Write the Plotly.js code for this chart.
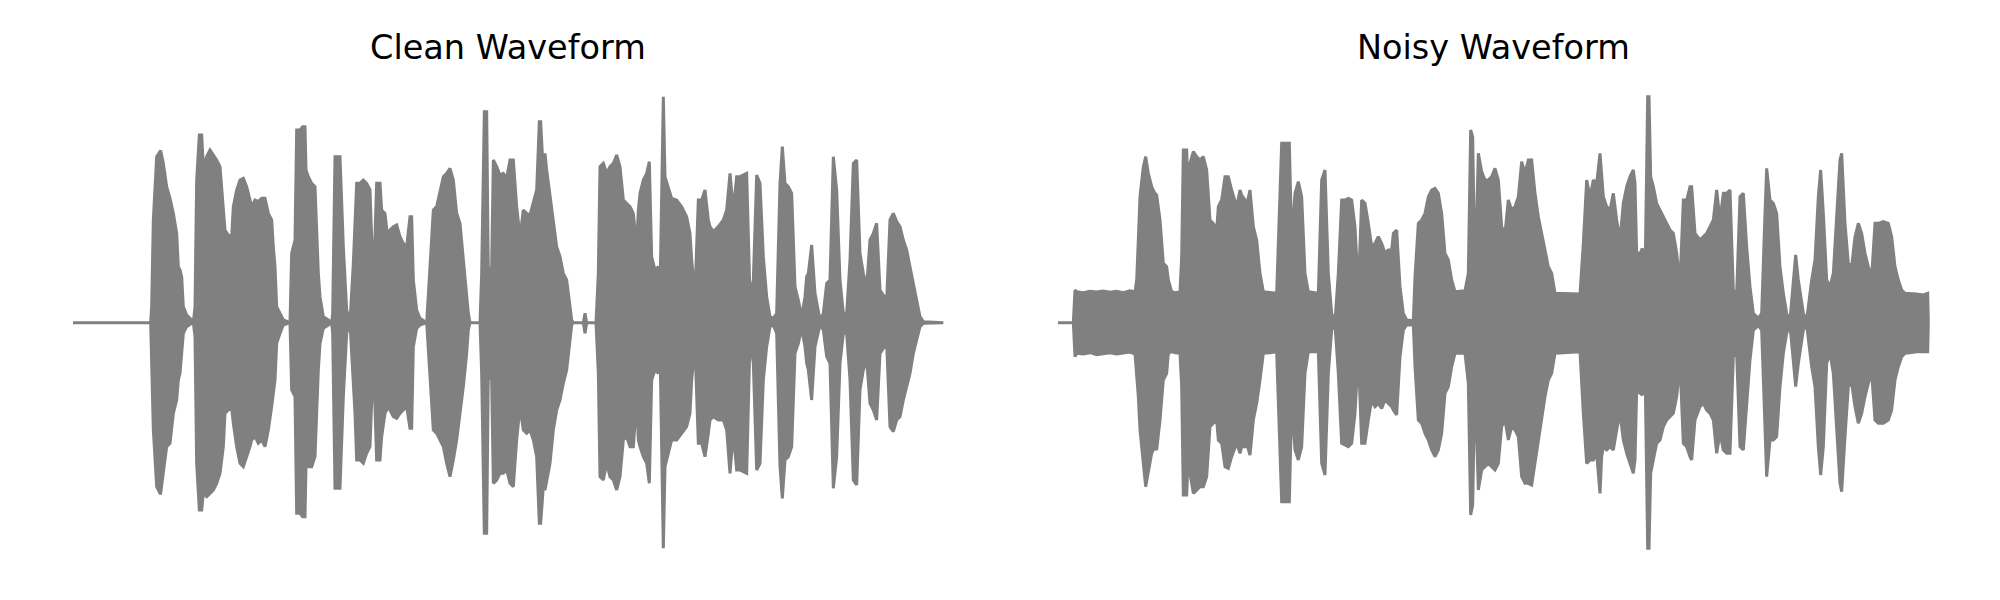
<!DOCTYPE html>
<html>
<head>
<meta charset="utf-8">
<script src="https://cdn.plot.ly/plotly-3.0.1.min.js"></script>
<style>html,body{margin:0;padding:0;background:#fff;}#chart{width:2000px;height:600px;}</style>
</head>
<body>
<div id="chart"></div>
<script>
// Titles
const titles = ["Clean Waveform", "Noisy Waveform"];

// Clean waveform envelope: time (ms), upper and lower amplitude
const cleanTime = [0,466,472,482,502,522,526,542,562,582,602,622,632,642,652,662,682,712,722,732,742,758,772,782,802,822,842,862,882,902,912,932,952,962,982,1002,1022,1042,1062,1072,1092,1112,1132,1152,1172,1192,1202,1212,1222,1242,1262,1302,1312,1332,1342,1362,1378,1392,1398,1412,1432,1452,1462,1472,1482,1502,1532,1552,1558,1572,1602,1622,1642,1662,1682,1692,1702,1722,1742,1762,1782,1802,1822,1842,1852,1872,1892,1902,1922,1942,1962,1982,2002,2022,2032,2042,2062,2082,2122,2142,2162,2182,2202,2222,2242,2262,2282,2302,2322,2342,2362,2372,2382,2442,2452,2468,2482,2492,2512,2522,2542,2562,2582,2602,2622,2642,2662,2682,2702,2722,2742,2762,2782,2798,2806,2822,2832,2842,2862,2882,2902,2922,2942,2962,2982,2992,3002,3062,3072,3082,3138,3152,3162,3182,3202,3222,3242,3262,3282,3302,3322,3342,3362,3382,3392,3402,3422,3442,3458,3472,3492,3512,3522,3532,3542,3552,3572,3592,3622,3652,3682,3702,3712,3732,3752,3772,3792,3812,3822,3842,3872,3902,3922,3942,3962,3982,4002,4022,4042,4062,4082,4102,4122,4142,4162,4182,4202,4222,4242,4256,4272,4292,4312,4332,4352,4372,4392,4402,4412,4432,4452,4482,4502,4522,4542,4562,4582,4602,4622,4642,4662,4682,4702,4722,4742,4762,4782,4802,4822,4842,4882,4902,4922,4942,4962,4982,5002,5022,5042,5062,5082,5102,5222];
const cleanUpper = [0,0,0.048,0.308,0.498,0.513,0.516,0.478,0.408,0.373,0.328,0.268,0.168,0.158,0.138,0.048,0.023,0.008,0,0.048,0.428,0.563,0.563,0.468,0.498,0.518,0.503,0.488,0.468,0.348,0.278,0.263,0.258,0.348,0.398,0.428,0.433,0.408,0.368,0.348,0.368,0.363,0.373,0.373,0.328,0.308,0.228,0.168,0.048,0.028,0.008,0,0.208,0.248,0.578,0.578,0.588,0.588,0.458,0.438,0.418,0.408,0.278,0.148,0.078,0.018,0.008,0,0.028,0.498,0.498,0.228,0.038,0.003,0.178,0.278,0.418,0.418,0.428,0.418,0.398,0.108,0.418,0.418,0.338,0.328,0.238,0.278,0.288,0.293,0.258,0.238,0.228,0.318,0.318,0.128,0.038,0.013,0,0.168,0.338,0.348,0.398,0.438,0.448,0.463,0.428,0.328,0.298,0.188,0.098,0.028,0,0,0.148,0.633,0.633,0.148,0.168,0.488,0.468,0.443,0.448,0.433,0.488,0.488,0.348,0.258,0.338,0.328,0.323,0.358,0.398,0.603,0.603,0.448,0.508,0.458,0.378,0.308,0.228,0.198,0.148,0.128,0.048,0.008,0,0,0.028,0,0,0.148,0.468,0.478,0.448,0.468,0.478,0.503,0.468,0.368,0.358,0.348,0.328,0.228,0.338,0.388,0.428,0.448,0.483,0.198,0.158,0.168,0.088,0.378,0.678,0.438,0.408,0.373,0.368,0.348,0.318,0.268,0.188,0.088,0.368,0.368,0.398,0.308,0.288,0.273,0.288,0.308,0.338,0.448,0.338,0.438,0.438,0.443,0.448,0.078,0.128,0.443,0.418,0.198,0.078,0.018,0.013,0.028,0.418,0.528,0.418,0.408,0.388,0.108,0.068,0.018,0.078,0.138,0.148,0.233,0.088,0.008,0.028,0.118,0.128,0.498,0.398,0.128,0.028,0.028,0.188,0.478,0.488,0.208,0.148,0.108,0.248,0.268,0.298,0.098,0.068,0.308,0.328,0.303,0.288,0.248,0.218,0.168,0.118,0.058,0.018,0.003,0];
const cleanLower = [0,0,-0.052,-0.322,-0.492,-0.512,-0.512,-0.452,-0.372,-0.362,-0.272,-0.232,-0.172,-0.152,-0.092,-0.032,-0.012,-0.002,0,-0.042,-0.422,-0.562,-0.562,-0.512,-0.522,-0.512,-0.502,-0.482,-0.452,-0.372,-0.272,-0.262,-0.257,-0.302,-0.372,-0.422,-0.432,-0.402,-0.372,-0.352,-0.342,-0.362,-0.352,-0.372,-0.322,-0.252,-0.222,-0.172,-0.062,-0.032,-0.007,0,-0.202,-0.222,-0.572,-0.572,-0.582,-0.582,-0.432,-0.432,-0.432,-0.402,-0.272,-0.142,-0.062,-0.017,-0.007,0,-0.032,-0.497,-0.497,-0.222,-0.032,-0.002,-0.172,-0.272,-0.412,-0.412,-0.422,-0.392,-0.372,-0.102,-0.412,-0.412,-0.342,-0.272,-0.252,-0.262,-0.282,-0.287,-0.272,-0.262,-0.252,-0.317,-0.317,-0.072,-0.017,-0.007,0,-0.162,-0.322,-0.332,-0.352,-0.372,-0.422,-0.462,-0.412,-0.352,-0.272,-0.192,-0.092,-0.022,0,0,-0.152,-0.632,-0.632,-0.152,-0.172,-0.482,-0.472,-0.452,-0.452,-0.442,-0.482,-0.492,-0.352,-0.252,-0.322,-0.332,-0.322,-0.352,-0.402,-0.602,-0.602,-0.492,-0.502,-0.472,-0.422,-0.322,-0.262,-0.232,-0.182,-0.142,-0.052,-0.007,0,0,-0.032,0,0,-0.152,-0.462,-0.472,-0.422,-0.462,-0.472,-0.502,-0.462,-0.352,-0.342,-0.372,-0.372,-0.232,-0.352,-0.372,-0.402,-0.422,-0.482,-0.172,-0.142,-0.152,-0.072,-0.372,-0.677,-0.432,-0.392,-0.352,-0.352,-0.332,-0.312,-0.272,-0.172,-0.072,-0.362,-0.362,-0.402,-0.332,-0.292,-0.282,-0.292,-0.292,-0.322,-0.452,-0.332,-0.442,-0.442,-0.447,-0.452,-0.052,-0.122,-0.442,-0.422,-0.172,-0.072,-0.012,-0.007,-0.032,-0.432,-0.527,-0.412,-0.402,-0.372,-0.092,-0.062,-0.017,-0.072,-0.122,-0.142,-0.232,-0.072,-0.007,-0.022,-0.102,-0.122,-0.497,-0.402,-0.122,-0.032,-0.032,-0.172,-0.472,-0.487,-0.202,-0.142,-0.112,-0.242,-0.262,-0.292,-0.092,-0.062,-0.312,-0.327,-0.292,-0.282,-0.232,-0.192,-0.152,-0.092,-0.052,-0.012,-0.002,0];

// Noisy waveform envelope: time (ms), upper and lower amplitude
const noisyTime = [0,92,102,112,152,192,232,272,312,352,392,432,462,472,482,492,512,526,542,562,582,592,612,632,652,662,682,702,732,742,752,772,782,792,812,832,852,872,892,912,932,952,962,982,1002,1022,1042,1072,1092,1102,1122,1132,1152,1172,1192,1212,1232,1272,1312,1322,1342,1388,1402,1422,1442,1462,1482,1502,1562,1582,1602,1622,1642,1662,1682,1702,1722,1742,1762,1782,1802,1822,1842,1862,1882,1902,1922,1942,1962,1982,2002,2012,2032,2052,2072,2092,2132,2142,2162,2182,2202,2222,2242,2262,2282,2302,2322,2342,2362,2382,2442,2462,2476,2488,2502,2522,2542,2562,2582,2602,2622,2642,2662,2682,2702,2722,2742,2762,2782,2802,2822,2842,2862,2882,2902,2922,2942,2962,2982,3132,3152,3172,3192,3212,3232,3252,3262,3272,3292,3312,3332,3352,3372,3392,3412,3432,3452,3462,3472,3492,3506,3522,3538,3546,3556,3572,3592,3612,3632,3652,3672,3692,3712,3732,3752,3772,3792,3802,3822,3852,3872,3892,3912,3932,3952,3972,3992,4012,4032,4052,4072,4092,4112,4132,4152,4172,4202,4222,4242,4252,4272,4292,4312,4332,4352,4372,4392,4412,4426,4442,4472,4492,4522,4542,4562,4576,4592,4612,4632,4652,4672,4692,4702,4722,4742,4762,4782,4802,4822,4842,4862,4882,4902,4922,4952,4982,5002,5022,5042,5062,5082,5112,5152,5192,5218,5222];
const noisyUpper = [0,0,0.098,0.093,0.090,0.094,0.092,0.095,0.091,0.094,0.090,0.096,0.093,0.128,0.248,0.378,0.468,0.498,0.448,0.408,0.388,0.383,0.308,0.178,0.168,0.128,0.093,0.090,0.092,0.198,0.518,0.518,0.368,0.478,0.513,0.498,0.488,0.498,0.458,0.308,0.298,0.278,0.348,0.368,0.438,0.438,0.398,0.348,0.398,0.383,0.368,0.353,0.398,0.288,0.248,0.148,0.093,0.090,0.088,0.238,0.538,0.538,0.248,0.388,0.423,0.378,0.148,0.093,0.088,0.428,0.458,0.148,0.028,0.003,0.148,0.368,0.368,0.373,0.368,0.288,0.098,0.368,0.358,0.298,0.228,0.238,0.258,0.238,0.208,0.218,0.218,0.268,0.278,0.108,0.028,0.008,0.006,0.138,0.298,0.308,0.328,0.378,0.398,0.403,0.388,0.328,0.208,0.188,0.128,0.093,0.096,0.148,0.578,0.558,0.128,0.508,0.453,0.428,0.428,0.438,0.463,0.428,0.288,0.268,0.368,0.338,0.348,0.378,0.483,0.448,0.488,0.488,0.388,0.318,0.268,0.208,0.168,0.148,0.088,0.086,0.238,0.428,0.378,0.428,0.418,0.508,0.428,0.378,0.348,0.338,0.388,0.308,0.248,0.358,0.408,0.438,0.458,0.418,0.208,0.208,0.223,0.128,0.678,0.678,0.438,0.408,0.358,0.338,0.318,0.298,0.278,0.268,0.208,0.118,0.368,0.368,0.408,0.408,0.268,0.248,0.258,0.268,0.288,0.308,0.398,0.308,0.388,0.388,0.398,0.098,0.088,0.378,0.388,0.228,0.108,0.028,0.013,0.028,0.328,0.463,0.368,0.358,0.328,0.168,0.088,0.028,0.008,0.128,0.203,0.128,0.028,0.008,0.128,0.188,0.378,0.458,0.328,0.128,0.108,0.148,0.308,0.488,0.508,0.298,0.178,0.168,0.258,0.298,0.268,0.208,0.168,0.138,0.298,0.298,0.303,0.298,0.258,0.168,0.128,0.098,0.088,0.088,0.086,0.083,0.088,0];
const noisyLower = [0,0,-0.102,-0.092,-0.094,-0.090,-0.096,-0.092,-0.090,-0.094,-0.092,-0.088,-0.094,-0.142,-0.222,-0.322,-0.422,-0.492,-0.442,-0.392,-0.372,-0.382,-0.292,-0.172,-0.152,-0.092,-0.087,-0.090,-0.092,-0.192,-0.517,-0.517,-0.392,-0.452,-0.512,-0.502,-0.492,-0.492,-0.462,-0.312,-0.302,-0.292,-0.352,-0.362,-0.432,-0.437,-0.402,-0.362,-0.392,-0.372,-0.372,-0.362,-0.397,-0.292,-0.242,-0.172,-0.092,-0.090,-0.087,-0.242,-0.537,-0.537,-0.242,-0.382,-0.412,-0.372,-0.152,-0.087,-0.087,-0.422,-0.457,-0.152,-0.022,-0.007,-0.152,-0.362,-0.367,-0.372,-0.362,-0.272,-0.092,-0.362,-0.362,-0.292,-0.232,-0.252,-0.242,-0.257,-0.232,-0.242,-0.252,-0.262,-0.277,-0.102,-0.022,-0.007,-0.007,-0.132,-0.292,-0.302,-0.332,-0.352,-0.382,-0.402,-0.382,-0.332,-0.212,-0.192,-0.132,-0.092,-0.092,-0.182,-0.577,-0.547,-0.172,-0.502,-0.442,-0.432,-0.422,-0.432,-0.442,-0.422,-0.312,-0.292,-0.352,-0.312,-0.322,-0.342,-0.462,-0.482,-0.482,-0.487,-0.422,-0.352,-0.292,-0.222,-0.172,-0.152,-0.092,-0.087,-0.272,-0.422,-0.412,-0.412,-0.392,-0.512,-0.402,-0.372,-0.382,-0.372,-0.382,-0.322,-0.272,-0.352,-0.392,-0.422,-0.452,-0.412,-0.202,-0.212,-0.217,-0.122,-0.677,-0.677,-0.452,-0.412,-0.362,-0.352,-0.312,-0.292,-0.282,-0.272,-0.222,-0.122,-0.362,-0.372,-0.402,-0.412,-0.292,-0.252,-0.242,-0.262,-0.272,-0.292,-0.392,-0.332,-0.382,-0.392,-0.392,-0.102,-0.092,-0.372,-0.382,-0.252,-0.112,-0.022,-0.009,-0.022,-0.332,-0.462,-0.352,-0.352,-0.342,-0.192,-0.092,-0.032,-0.007,-0.122,-0.192,-0.122,-0.022,-0.007,-0.132,-0.192,-0.372,-0.457,-0.372,-0.122,-0.092,-0.152,-0.322,-0.482,-0.507,-0.342,-0.192,-0.182,-0.252,-0.302,-0.272,-0.222,-0.182,-0.152,-0.292,-0.302,-0.302,-0.292,-0.262,-0.172,-0.132,-0.102,-0.092,-0.090,-0.087,-0.087,-0.087,0];

const grey = "#808080";

function envelopeTrace(t, hi, lo, xa, ya) {
  const xs = t.map(v => v / 1000).concat(t.slice().reverse().map(v => v / 1000));
  const ys = hi.concat(lo.slice().reverse());
  return {
    x: xs, y: ys, xaxis: xa, yaxis: ya,
    type: "scatter", mode: "lines", fill: "toself",
    fillcolor: grey, line: {color: grey, width: 3},
    hoverinfo: "skip", showlegend: false
  };
}

const data = [
  envelopeTrace(cleanTime, cleanUpper, cleanLower, "x", "y"),
  envelopeTrace(noisyTime, noisyUpper, noisyLower, "x2", "y2")
];

const W = 2000, H = 600;
const xr = [-0.060, 5.280];
const yr = [-0.832, 0.968];
const hidden = {visible: false, showgrid: false, zeroline: false, showticklabels: false, fixedrange: true};

const titleFont = {family: "DejaVu Sans", size: 33.5, color: "#000000"};

const layout = {
  width: W, height: H,
  margin: {l: 0, r: 0, t: 0, b: 0},
  paper_bgcolor: "#ffffff", plot_bgcolor: "#ffffff",
  showlegend: false,
  xaxis: Object.assign({}, hidden, {domain: [63 / W, 953 / W], range: xr}),
  yaxis: Object.assign({}, hidden, {domain: [0, 1], range: yr}),
  xaxis2: Object.assign({}, hidden, {domain: [1048 / W, 1938 / W], range: xr, anchor: "y2"}),
  yaxis2: Object.assign({}, hidden, {domain: [0, 1], range: yr, anchor: "x2"}),
  annotations: [
    {text: titles[0], x: 508 / W, y: 1 - 47 / H, xref: "paper", yref: "paper", xanchor: "center", yanchor: "middle", showarrow: false, font: titleFont},
    {text: titles[1], x: 1493 / W, y: 1 - 47 / H, xref: "paper", yref: "paper", xanchor: "center", yanchor: "middle", showarrow: false, font: titleFont}
  ]
};

Plotly.newPlot("chart", data, layout, {staticPlot: true, displayModeBar: false});
</script>
</body>
</html>
